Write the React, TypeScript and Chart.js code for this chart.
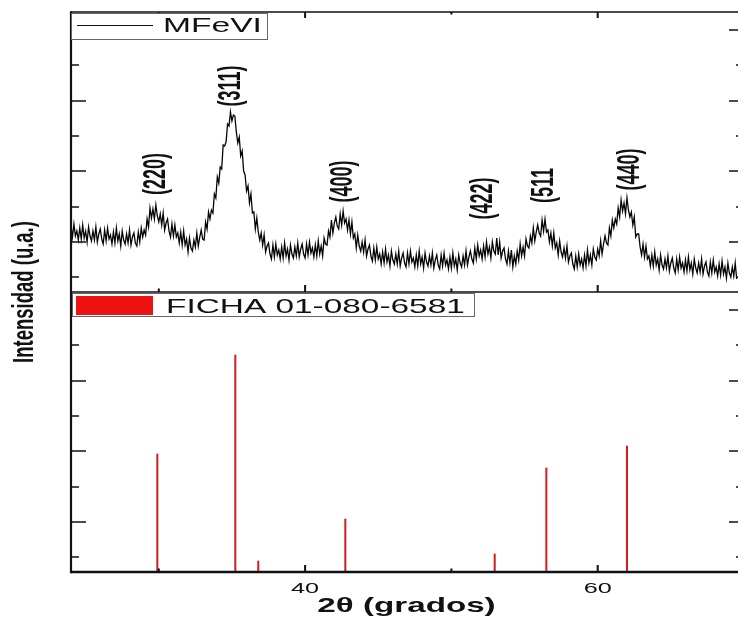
import React, { useEffect, useRef } from 'react';
import { Chart, registerables } from 'chart.js';

Chart.register(...registerables);

// ---- data ----
const TWO_THETA_START = 24.0;
const TWO_THETA_STEP = 0.1;
// MFeVI diffractogram, one value per 0.1 deg from 24.0 to 69.5 (arbitrary units)
const MFEVI_INTENSITY = [
  66, 55, 68, 56, 61, 52, 64, 53, 67, 54,
  61, 50, 65, 56, 51, 61, 52, 65, 50, 58,
  63, 53, 48, 62, 51, 64, 53, 57, 48, 60,
  49, 64, 51, 58, 46, 61, 52, 48, 58, 49,
  62, 47, 55, 59, 49, 46, 60, 50, 64, 55,
  62, 57, 73, 65, 84, 74, 83, 73, 87, 76,
  70, 78, 67, 79, 62, 69, 73, 61, 55, 68,
  56, 67, 55, 59, 49, 60, 47, 61, 47, 53,
  40, 54, 44, 41, 52, 45, 59, 46, 55, 62,
  53, 52, 70, 63, 80, 73, 82, 79, 98, 94,
  115, 109, 125, 123, 147, 146, 150, 168, 166, 180,
  171, 177, 176, 160, 149, 155, 136, 141, 121, 117,
  101, 106, 89, 98, 79, 80, 63, 74, 60, 52,
  59, 47, 57, 40, 46, 49, 38, 33, 47, 35,
  48, 37, 42, 33, 45, 34, 49, 36, 43, 32,
  47, 38, 34, 45, 36, 49, 35, 43, 48, 38,
  34, 48, 37, 50, 39, 44, 35, 47, 36, 51,
  38, 46, 36, 54, 48, 47, 61, 55, 72, 59,
  69, 75, 66, 63, 78, 67, 81, 69, 73, 62,
  72, 58, 70, 54, 58, 44, 57, 46, 41, 50,
  40, 52, 36, 43, 47, 36, 31, 44, 32, 45,
  33, 38, 28, 40, 29, 43, 30, 37, 26, 41,
  32, 28, 38, 28, 41, 26, 34, 39, 29, 25,
  39, 28, 41, 30, 34, 25, 37, 26, 41, 28,
  35, 24, 39, 30, 26, 36, 27, 39, 24, 32,
  37, 27, 23, 37, 26, 39, 27, 32, 23, 35,
  24, 39, 26, 33, 22, 37, 29, 25, 36, 27,
  41, 27, 35, 41, 33, 29, 44, 33, 47, 36,
  42, 33, 46, 35, 50, 38, 45, 34, 50, 41,
  38, 54, 37, 50, 34, 41, 44, 33, 28, 41,
  29, 42, 25, 36, 28, 41, 32, 48, 36, 45,
  36, 53, 46, 44, 56, 49, 64, 51, 60, 67,
  59, 56, 72, 61, 73, 60, 62, 50, 59, 46,
  59, 44, 49, 37, 51, 40, 35, 44, 34, 46,
  30, 36, 39, 28, 23, 36, 25, 38, 27, 33,
  24, 37, 26, 42, 29, 37, 27, 43, 35, 32,
  43, 36, 51, 38, 48, 56, 49, 47, 64, 56,
  72, 64, 73, 68, 84, 75, 92, 81, 89, 78,
  94, 82, 75, 80, 67, 75, 55, 58, 58, 45,
  37, 48, 35, 46, 33, 36, 26, 37, 26, 40,
  27, 33, 22, 37, 27, 23, 33, 24, 36, 21,
  29, 34, 24, 19, 33, 22, 35, 24, 29, 20,
  32, 21, 35, 22, 29, 18, 33, 24, 19, 29,
  20, 33, 18, 26, 30, 20, 16, 30, 19, 32,
  20, 25, 16, 28, 17, 31, 18, 25, 14, 29,
  19, 15, 25, 16, 29, 13,
];

// Reference card sticks
const FICHA_POSITIONS = [29.9, 35.23, 36.8, 42.75, 52.96, 56.49, 62.0];
const FICHA_INTENSITY = [118, 217, 11, 53, 18, 104, 126];

// Peak annotations
const PEAK_LABELS = ['(220)', '(311)', '(400)', '(422)', '(511', '(440)'];
const PEAK_LABEL_X = [29.88, 34.97, 42.63, 52.18, 56.35, 62.23];
const PEAK_LABEL_Y = [118, 206, 110.5, 93.5, 106.5, 122.5];

// Axes
const X_MIN = 24;
const X_MAX = 70;
const X_MAJOR_TICKS = [40, 60];
const X_MINOR_TICKS = [30, 50, 70];
const Y_MIN = 0;
const Y_MAX = 280;
const Y_MAJOR_TICKS = [50, 121, 191, 262];
const Y_MINOR_TICKS = [15, 85, 156, 227];

const SERIES_LABEL = 'MFeVI';
const FICHA_LABEL = 'FICHA 01-080-6581';
const X_TITLE = '2θ (grados)';
const Y_TITLE = 'Intensidad (u.a.)';

const FONT = '"Liberation Sans", Arial, sans-serif';
const INK = '#111111';

function drawText(
  ctx: CanvasRenderingContext2D,
  text: string,
  x: number,
  y: number,
  font: string,
  sx: number,
  sy: number,
  rotate: number,
  align: CanvasTextAlign
) {
  ctx.save();
  ctx.translate(x, y);
  if (rotate) ctx.rotate(rotate);
  ctx.scale(sx, sy);
  ctx.font = font;
  ctx.textAlign = align;
  ctx.textBaseline = 'alphabetic';
  ctx.fillStyle = INK;
  ctx.fillText(text, 0, 0);
  ctx.restore();
}

function seg(ctx: CanvasRenderingContext2D, x1: number, y1: number, x2: number, y2: number, w: number) {
  ctx.beginPath();
  ctx.lineWidth = w;
  ctx.moveTo(x1, y1);
  ctx.lineTo(x2, y2);
  ctx.stroke();
}

const overlayPlugin = {
  id: 'xrdOverlay',
  afterDraw(chart: any) {
    const ctx: CanvasRenderingContext2D = chart.ctx;
    const xs = chart.scales.x;
    const yT = chart.scales.yTop;
    const yB = chart.scales.yBot;
    const L = chart.chartArea.left;
    const R = chart.chartArea.right;
    const T = yT.top;
    const M = yT.bottom;
    const B = yB.bottom;

    ctx.save();
    ctx.strokeStyle = INK;
    ctx.lineCap = 'butt';

    // frame
    seg(ctx, L, T, R, T, 1.5);
    seg(ctx, L, M, R, M, 1.5);
    seg(ctx, L, B, R, B, 2.5);
    seg(ctx, L, T - 0.75, L, B + 1.25, 2.2);
    seg(ctx, R, T, R, B, 2);

    // x ticks (inward)
    const xTick = (v: number, len: number) => {
      const px = xs.getPixelForValue(v);
      seg(ctx, px, B, px, B - len, 2);
      seg(ctx, px, M, px, M - len, 2);
      seg(ctx, px, T, px, T + len - 1, 2);
    };
    X_MAJOR_TICKS.forEach((v) => xTick(v, 7));
    X_MINOR_TICKS.forEach((v) => xTick(v, 3.5));

    // y ticks (inward, both sides)
    [yT, yB].forEach((sc: any) => {
      Y_MAJOR_TICKS.forEach((v) => {
        const py = sc.getPixelForValue(v);
        seg(ctx, L, py, L + 15, py, 1.5);
        seg(ctx, R, py, R - 15, py, 1.5);
      });
      Y_MINOR_TICKS.forEach((v) => {
        const py = sc.getPixelForValue(v);
        seg(ctx, L, py, L + 8, py, 1.5);
        seg(ctx, R, py, R - 8, py, 1.5);
      });
    });

    // x tick labels
    X_MAJOR_TICKS.forEach((v) => {
      drawText(ctx, String(v), xs.getPixelForValue(v), B + 21, `15.5px ${FONT}`, 1.63, 1, 0, 'center');
    });

    // axis titles
    drawText(ctx, X_TITLE, (L + R) / 2 - 1, B + 40, `bold 21px ${FONT}`, 1.58, 1, 0, 'center');
    drawText(ctx, Y_TITLE, 33, (T + B) / 2, `bold 18.5px ${FONT}`, 1, 1.55, -Math.PI / 2, 'center');

    // peak labels
    PEAK_LABELS.forEach((lab, i) => {
      const cx = xs.getPixelForValue(PEAK_LABEL_X[i]);
      const cy = yT.getPixelForValue(PEAK_LABEL_Y[i]);
      drawText(ctx, lab, cx + 8.4, cy, `bold 18px ${FONT}`, 1, 1.75, -Math.PI / 2, 'center');
    });

    // legend: top panel
    ctx.fillStyle = '#ffffff';
    ctx.fillRect(L, T + 1, 196, 26);
    ctx.strokeStyle = '#666666';
    ctx.lineWidth = 1;
    ctx.strokeRect(L + 0.5, T + 1.5, 196, 26);
    ctx.strokeStyle = INK;
    seg(ctx, L + 6, T + 13.5, L + 82, T + 13.5, 1.2);
    drawText(ctx, SERIES_LABEL, L + 92, T + 20, `20px ${FONT}`, 1.68, 1, 0, 'left');

    // legend: bottom panel
    ctx.fillStyle = '#ffffff';
    ctx.fillRect(L + 1, M + 1, 403, 23);
    ctx.strokeStyle = '#666666';
    ctx.lineWidth = 1;
    ctx.strokeRect(L + 1.5, M + 1.5, 402, 23);
    ctx.fillStyle = '#ee1111';
    ctx.fillRect(L + 5, M + 4, 77, 19);
    drawText(ctx, FICHA_LABEL, L + 95, M + 21.3, `21px ${FONT}`, 1.59, 1, 0, 'left');

    ctx.restore();
  },
};

export default function App() {
  const ref = useRef<HTMLCanvasElement>(null);

  useEffect(() => {
    const canvas = ref.current;
    if (!canvas) return;

    const trace = MFEVI_INTENSITY.map((v, i) => ({
      x: TWO_THETA_START + i * TWO_THETA_STEP,
      y: v,
    }));
    const sticks = FICHA_POSITIONS.map((p, i) => ({ x: p, y: FICHA_INTENSITY[i] }));

    const chart = new Chart(canvas, {
      type: 'line',
      data: {
        datasets: [
          {
            type: 'line',
            label: SERIES_LABEL,
            data: trace,
            xAxisID: 'x',
            yAxisID: 'yTop',
            borderColor: '#050505',
            borderWidth: 1.3,
            pointRadius: 0,
            tension: 0,
            fill: false,
          },
          {
            type: 'bar',
            label: FICHA_LABEL,
            data: sticks,
            xAxisID: 'x',
            yAxisID: 'yBot',
            backgroundColor: '#cc2424',
            borderWidth: 0,
            barThickness: 1.4,
          } as any,
        ],
      },
      options: {
        responsive: false,
        animation: false,
        devicePixelRatio: 1,
        events: [],
        layout: { padding: { left: 71, top: 12, right: 16, bottom: 48 } },
        plugins: {
          legend: { display: false },
          tooltip: { enabled: false },
        },
        scales: {
          x: { type: 'linear', min: X_MIN, max: X_MAX, display: false, offset: false },
          yBot: {
            type: 'linear',
            position: 'left',
            stack: 'panels',
            stackWeight: 1,
            min: Y_MIN,
            max: Y_MAX,
            display: false,
          },
          yTop: {
            type: 'linear',
            position: 'left',
            stack: 'panels',
            stackWeight: 1,
            min: Y_MIN,
            max: Y_MAX,
            display: false,
          },
        } as any,
      },
      plugins: [overlayPlugin],
    });

    return () => chart.destroy();
  }, []);

  return (
    <div
      style={{
        position: 'fixed',
        left: 0,
        top: 0,
        width: 738,
        height: 620,
        overflow: 'hidden',
        background: '#ffffff',
      }}
    >
      <canvas ref={ref} width={760} height={620} style={{ display: 'block', width: 760, height: 620 }} />
    </div>
  );
}
